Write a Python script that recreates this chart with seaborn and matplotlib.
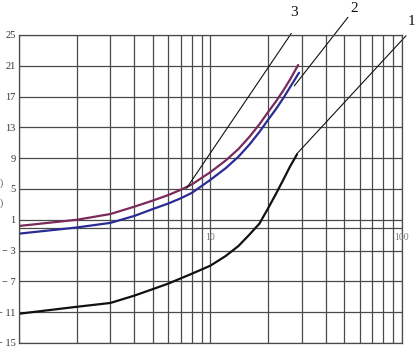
import matplotlib
matplotlib.use("Agg")
import matplotlib.pyplot as plt
import seaborn as sns
import pandas as pd

# ---- data ----
x3 = [1, 2, 3, 4, 5, 6, 7, 8, 10, 12, 14, 16, 18, 20, 22, 24, 26, 28.7]
y3 = [0.2, 1.0, 1.75, 2.7, 3.5, 4.2, 4.9, 5.6, 7.2, 8.7, 10.2, 11.8, 13.4, 15.0,
      16.4, 17.8, 19.2, 21.1]                                     # curve 3 (purple)
x2 = [1, 2, 3, 4, 5, 6, 7, 8, 10, 12, 14, 16, 18, 20, 22, 24, 26, 29.0]
y2 = [-0.8, 0.0, 0.6, 1.5, 2.4, 3.1, 3.8, 4.5, 6.2, 7.7, 9.2, 10.8, 12.4, 14.0,
      15.4, 16.8, 18.2, 20.1]                                     # curve 2 (blue)
x1 = [1, 2, 3, 4, 5, 6, 7, 8, 10, 12, 14, 16, 18, 20, 22, 24, 26, 28.3]
y1 = [-11.2, -10.3, -9.8, -8.85, -8.0, -7.3, -6.6, -6.0, -4.95, -3.7, -2.4, -0.9,
      0.5, 2.5, 4.4, 6.2, 7.9, 9.5]                               # curve 1 (black)

ytick_vals = [25, 21, 17, 13, 9, 5, 1, -3, -7, -11, -15]
ytick_labels = ["25", "21", "17", "13", "9", "5", "1", "− 3", "− 7", "− 11", "− 15"]
xlabel_vals = [10, 100]
xlabel_texts = ["10", "100"]

# leader lines (start on curve, end near label) and label positions
leaders = {
    "3": ((7.5, 5.1), (26.4, 25.2), (27.4, 27.9)),
    "2": ((27.4, 18.4), (52.2, 27.3), (56.2, 28.5)),
    "1": ((28.2, 9.55), (104.9, 24.9), (111.5, 26.7)),
}

df = pd.concat([
    pd.DataFrame({"x": x1, "y": y1, "c": "1"}),
    pd.DataFrame({"x": x2, "y": y2, "c": "2"}),
    pd.DataFrame({"x": x3, "y": y3, "c": "3"}),
])

sns.set_theme(style="white")
plt.rcParams["font.family"] = ["Liberation Serif", "DejaVu Serif"]

fig = plt.figure(figsize=(4.16, 3.48), dpi=100)
ax = fig.add_axes([19/416, 1-343/348, (402-19)/416, (343-35)/348])

gridc = "#4a4a4a"
ax.set_xscale("log")
ax.set_xlim(1, 100)
ax.set_ylim(-15, 25)
ax.set_xticks([1, 10, 100])
ax.set_xticks([i*10**k for k in range(2) for i in range(2, 10)], minor=True)
ax.tick_params(axis="x", which="both", length=0, labelbottom=False)
ax.set_yticks(ytick_vals)
ax.set_yticklabels(ytick_labels, fontsize=7.5, color="#333333")
ax.tick_params(axis="y", length=2, width=0.8, color=gridc, pad=0.5)
ax.grid(True, which="both", color=gridc, lw=0.9)
for s in ax.spines.values():
    s.set_color(gridc)
    s.set_linewidth(0.9)
ax.axhline(0, color=gridc, lw=0.9)

palette = {"1": "#111111", "2": "#2b2b95", "3": "#7a2a5a"}
sns.lineplot(data=df, x="x", y="y", hue="c", palette=palette, lw=1.6,
             legend=False, ax=ax, sort=False, estimator=None)

for t, v in zip(xlabel_texts, xlabel_vals):
    ax.text(v, -1.25, t, ha="center", va="center", fontsize=7, color="#777777")

for lab, (p0, p1, pt) in leaders.items():
    ax.plot([p0[0], p1[0]], [p0[1], p1[1]], color="#111111", lw=0.8, clip_on=False)
    ax.text(pt[0], pt[1], lab, ha="center", va="center", fontsize=11, color="#111111",
            clip_on=False)

fig.text(0.0, 1-183/348, ")", fontsize=7, color="#555555", va="center")
fig.text(0.0, 1-203/348, ")", fontsize=7, color="#555555", va="center")

fig.savefig("out.png", dpi=100)
